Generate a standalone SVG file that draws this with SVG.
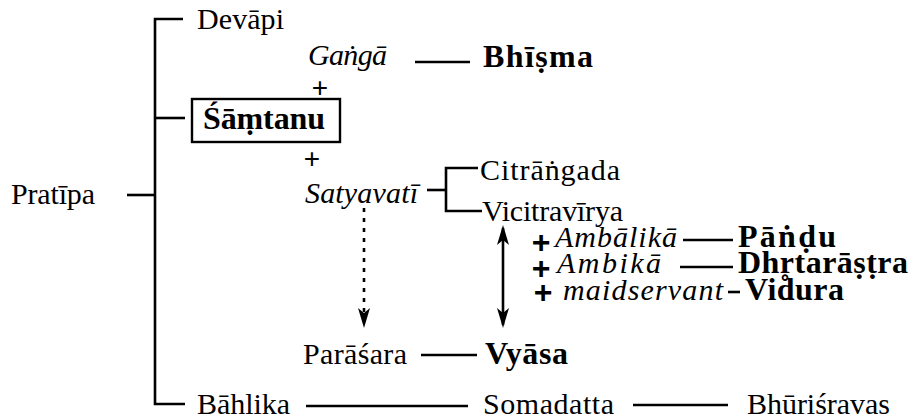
<svg xmlns="http://www.w3.org/2000/svg" width="913" height="420" viewBox="0 0 913 420">
<defs>
<style>
.t{font-size:30px}
.i{font-style:italic}
.b{font-weight:bold;font-size:32px}
.p{font-size:28px;text-anchor:middle}
.pb{font-weight:bold;font-size:32px}
.ln{stroke:#000;stroke-width:2.6;fill:none}
</style>
<marker id="ah" viewBox="0 0 20 12" refX="17" refY="6" markerWidth="20" markerHeight="12" markerUnits="userSpaceOnUse" orient="auto-start-reverse">
<path d="M0,0 L20,6 L0,12 L5,6 Z" fill="#000"/>
</marker>
</defs>
<rect width="913" height="420" fill="#fff"/>
<g id="connectors">
<path class="ln" d="M183,19 H155 V404 H185"/>
<path class="ln" d="M155,118 H185"/>
<path class="ln" d="M127,195 H155"/>
<path class="ln" d="M415,62 H470"/>
<path class="ln" d="M427,190 H446"/>
<path class="ln" d="M478,168 H446 V211 H482"/>
<path class="ln" d="M683,240 H733"/>
<path class="ln" d="M680,267 H733"/>
<path class="ln" d="M728,292 H740"/>
<path class="ln" d="M421,355 H477"/>
<path class="ln" d="M306,406 H468"/>
<path class="ln" d="M633,405 H728"/>
<line class="ln" x1="364" y1="208" x2="364" y2="325" stroke-dasharray="4 6" marker-end="url(#ah)"/>
<line class="ln" x1="503" y1="228" x2="503" y2="325" marker-start="url(#ah)" marker-end="url(#ah)"/>
</g>
<g font-family="Liberation Serif, DejaVu Serif, serif" fill="#000">
<g id="pratipa"><text class="t" x="11" y="204" textLength="84">Pratīpa</text></g>
<g id="devapi"><text class="t" x="197" y="29" textLength="87">Devāpi</text></g>
<g id="santanu">
<rect x="192" y="99" width="148" height="43" fill="none" stroke="#000" stroke-width="2.4"/>
<text class="t b" x="203" y="129" textLength="122">Śāṃtanu</text>
</g>
<g id="ganga">
<text class="t i" x="308" y="65" textLength="79">Gaṅgā</text>
<text class="p" x="320" y="97" font-family="Liberation Sans, sans-serif">+</text>
</g>
<g id="bhisma"><text class="t b" x="483" y="67" textLength="110">Bhīṣma</text></g>
<g id="satyavati">
<text class="p" x="312" y="168" font-family="Liberation Sans, sans-serif">+</text>
<text class="t i" x="305" y="203" textLength="113">Satyavatī</text>
</g>
<g id="citrangada"><text class="t" x="480" y="180" textLength="140">Citrāṅgada</text></g>
<g id="vicitravirya"><text class="t" x="482" y="221" textLength="141">Vicitravīrya</text></g>
<g id="ambalika">
<text class="p pb" x="541" y="253" font-family="Liberation Sans, sans-serif">+</text>
<text class="t i" x="555" y="247" textLength="122">Ambālikā</text>
</g>
<g id="pandu"><text class="t b" x="738" y="247" textLength="98">Pāṅḍu</text></g>
<g id="ambika">
<text class="p pb" x="541" y="279" font-family="Liberation Sans, sans-serif">+</text>
<text class="t i" x="557" y="273" textLength="104">Ambikā</text>
</g>
<g id="dhrtarastra"><text class="t b" x="738" y="273" textLength="170">Dhr̥tarāṣṭra</text></g>
<g id="maidservant">
<text class="p pb" x="543" y="303" font-family="Liberation Sans, sans-serif">+</text>
<text class="t i" x="563" y="300" textLength="160">maidservant</text>
</g>
<g id="vidura"><text class="t b" x="745" y="300" textLength="99">Vidura</text></g>
<g id="parasara"><text class="t" x="303" y="364" textLength="104">Parāśara</text></g>
<g id="vyasa"><text class="t b" x="485" y="364" textLength="83">Vyāsa</text></g>
<g id="bahlika"><text class="t" x="197" y="414" textLength="93">Bāhlika</text></g>
<g id="somadatta"><text class="t" x="483" y="414" textLength="131">Somadatta</text></g>
<g id="bhurisravas"><text class="t" x="747" y="414" textLength="143">Bhūriśravas</text></g>
</g>
</svg>
